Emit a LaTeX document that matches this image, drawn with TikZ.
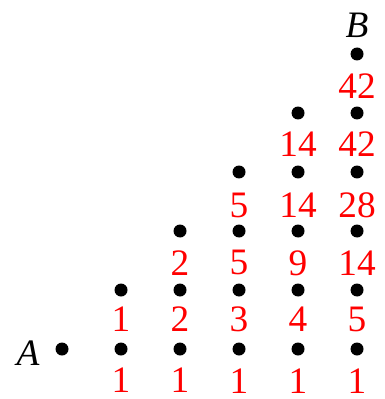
\documentclass[tikz,border=0pt]{standalone}
\usepackage{fontspec}
\setmainfont{Liberation Serif}
\usetikzlibrary{positioning}

\tikzset{
  dot/.style={circle, fill=black, inner sep=0pt, minimum size=0.22cm},
  num/.style={text=red, font=\fontsize{18}{20}\selectfont, inner sep=0pt},
  endlabel/.style={font=\fontsize{18}{20}\selectfont\itshape, inner sep=0pt}
}

\begin{document}
\begin{tikzpicture}
    \useasboundingbox (-1.051, -0.847) rectangle (5.458, 5.915);

    % 起点与终点
    \node[dot] (a) at (0, 0) {};
    \node[endlabel] (alab) at (-0.576, -0.07) {A};
    \node[dot] (d55) at (5, 5) {};
    \node[endlabel] (blab) at (5, 5.49) {B};

    % 第一列
    \node[dot] (d10) at (1, 0) {};
    \node[dot] (d11) at (1, 1) {};
    \node[num] (n10) at (1, -0.53) {1};
    \node[num] (n11) at (1, 0.5) {1};

    % 第二列
    \node[dot] (d20) at (2, 0) {};
    \node[dot] (d21) at (2, 1) {};
    \node[dot] (d22) at (2, 2) {};
    \node[num] (n20) at (2, -0.53) {1};
    \node[num] (n21) at (2, 0.5) {2};
    \node[num] (n22) at (2, 1.46) {2};

    % 第三列
    \node[dot] (d30) at (3, 0) {};
    \node[dot] (d31) at (3, 1) {};
    \node[dot] (d32) at (3, 2) {};
    \node[dot] (d33) at (3, 3) {};
    \node[num] (n30) at (3, -0.54) {1};
    \node[num] (n31) at (3, 0.5) {3};
    \node[num] (n32) at (3, 1.46) {5};
    \node[num] (n33) at (3, 2.44) {5};

    % 第四列
    \node[dot] (d40) at (4, 0) {};
    \node[dot] (d41) at (4, 1) {};
    \node[dot] (d42) at (4, 2) {};
    \node[dot] (d43) at (4, 3) {};
    \node[dot] (d44) at (4, 4) {};
    \node[num] (n40) at (4, -0.54) {1};
    \node[num] (n41) at (4, 0.5) {4};
    \node[num] (n42) at (4, 1.46) {9};
    \node[num] (n43) at (4, 2.44) {14};
    \node[num] (n44) at (4, 3.47) {14};

    % 第五列
    \node[dot] (d50) at (5, 0) {};
    \node[dot] (d51) at (5, 1) {};
    \node[dot] (d52) at (5, 2) {};
    \node[dot] (d53) at (5, 3) {};
    \node[dot] (d54) at (5, 4) {};
    \node[num] (n50) at (5, -0.55) {1};
    \node[num] (n51) at (5, 0.5) {5};
    \node[num] (n52) at (5, 1.46) {14};
    \node[num] (n53) at (5, 2.44) {28};
    \node[num] (n54) at (5, 3.47) {42};
    \node[num] (n55) at (5, 4.46) {42};
  \end{tikzpicture}
\end{document}
